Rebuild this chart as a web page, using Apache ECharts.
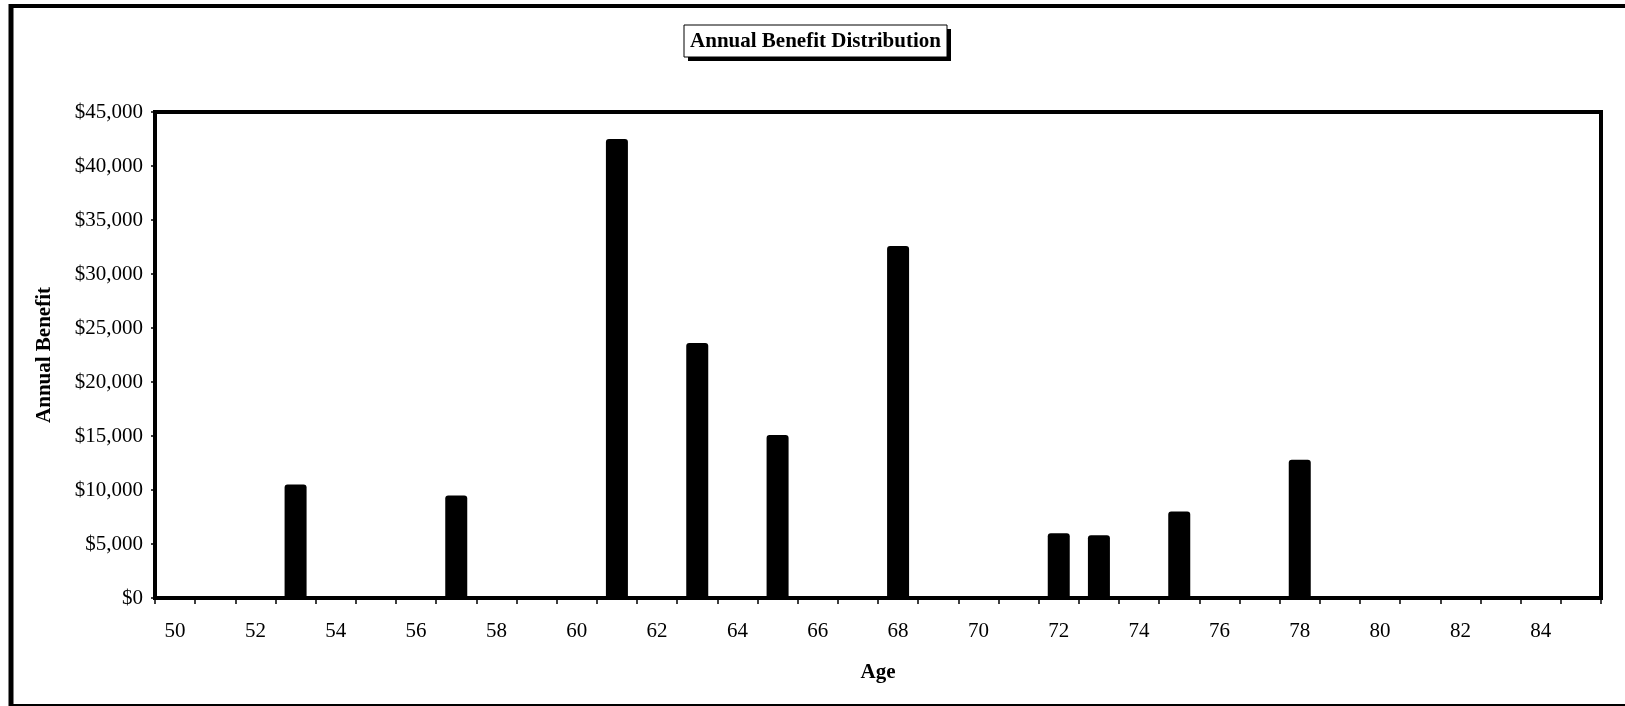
<!DOCTYPE html>
<html>
<head>
<meta charset="utf-8">
<title>Annual Benefit Distribution</title>
<script src="https://cdn.jsdelivr.net/npm/echarts@6/dist/echarts.min.js"></script>
<style>
  html, body { margin: 0; padding: 0; background: #fff; }
  #chart { width: 1625px; height: 706px; }
</style>
</head>
<body>
<div id="chart"></div>
<script>
// Ages 50 through 85, one category per year
const ages = [];
for (let a = 50; a <= 85; a++) ages.push(String(a));

// Annual benefit paid at each age (zero where nothing is paid)
const benefitByAge = {
  53: 10500,
  57: 9500,
  61: 42500,
  63: 23600,
  65: 15100,
  68: 32600,
  72: 6000,
  73: 5800,
  75: 8000,
  78: 12800
};
const benefits = ages.map(a => benefitByAge[a] || 0);

// Value axis ticks
const yMin = 0;
const yMax = 45000;
const yStep = 5000;

const chartTitle = 'Annual Benefit Distribution';
const serif = '"Liberation Serif", "Times New Roman", serif';

// Title box geometry
const boxX = 684, boxY = 25, boxW = 263, boxH = 32, shadowOff = 4;

const chart = echarts.init(document.getElementById('chart'), null, { renderer: 'canvas' });

chart.setOption({
  backgroundColor: '#fff',
  animation: false,
  grid: {
    left: 155,
    right: 24,
    top: 112,
    bottom: 108,
    show: true,
    borderColor: '#000',
    borderWidth: 4,
    backgroundColor: '#fff'
  },
  xAxis: {
    type: 'category',
    data: ages,
    boundaryGap: true,
    name: 'Age',
    nameLocation: 'middle',
    nameGap: 64,
    nameTextStyle: {
      fontFamily: serif,
      fontWeight: 'bold',
      fontSize: 21,
      color: '#000'
    },
    axisLine: { show: true, lineStyle: { color: '#000', width: 4 } },
    axisTick: { show: true, interval: 0, length: 6, lineStyle: { color: '#000', width: 1.5 } },
    axisLabel: {
      interval: 1,
      margin: 23,
      fontFamily: serif,
      fontSize: 21,
      color: '#000'
    },
    splitLine: { show: false }
  },
  yAxis: {
    type: 'value',
    min: yMin,
    max: yMax,
    interval: yStep,
    name: 'Annual Benefit',
    nameLocation: 'middle',
    nameGap: 100,
    nameRotate: 90,
    nameTextStyle: {
      fontFamily: serif,
      fontWeight: 'bold',
      fontSize: 21,
      color: '#000'
    },
    axisLine: { show: true, lineStyle: { color: '#000', width: 4 } },
    axisTick: { show: true, length: 4, lineStyle: { color: '#000', width: 1.5 } },
    axisLabel: {
      margin: 12,
      fontFamily: serif,
      fontSize: 21,
      color: '#000',
      formatter: v => '$' + v.toLocaleString('en-US')
    },
    splitLine: { show: false }
  },
  series: [{
    type: 'bar',
    data: benefits,
    barWidth: 22,
    itemStyle: { color: '#000', borderRadius: [3, 3, 0, 0] }
  }],
  graphic: [
    // outer frame of the chart sheet
    { type: 'line', shape: { x1: 11, y1: 4, x2: 11, y2: 706 }, style: { stroke: '#000', lineWidth: 5 }, silent: true },
    { type: 'line', shape: { x1: 9, y1: 6, x2: 1625, y2: 6 }, style: { stroke: '#000', lineWidth: 4 }, silent: true },
    { type: 'line', shape: { x1: 9, y1: 705, x2: 1625, y2: 705 }, style: { stroke: '#000', lineWidth: 2 }, silent: true },
    // title box with drop shadow
    { type: 'rect', shape: { x: boxX + shadowOff, y: boxY + shadowOff, width: boxW, height: boxH }, style: { fill: '#000' }, silent: true, z: 10 },
    { type: 'rect', shape: { x: boxX, y: boxY, width: boxW, height: boxH }, style: { fill: '#fff', stroke: '#000', lineWidth: 1 }, silent: true, z: 11 },
    {
      type: 'text', z: 12, silent: true,
      x: boxX + boxW / 2, y: boxY + boxH / 2 + 1,
      style: {
        text: chartTitle,
        fill: '#000',
        font: 'bold 21px ' + serif,
        align: 'center',
        verticalAlign: 'middle'
      }
    }
  ]
});
</script>
</body>
</html>
